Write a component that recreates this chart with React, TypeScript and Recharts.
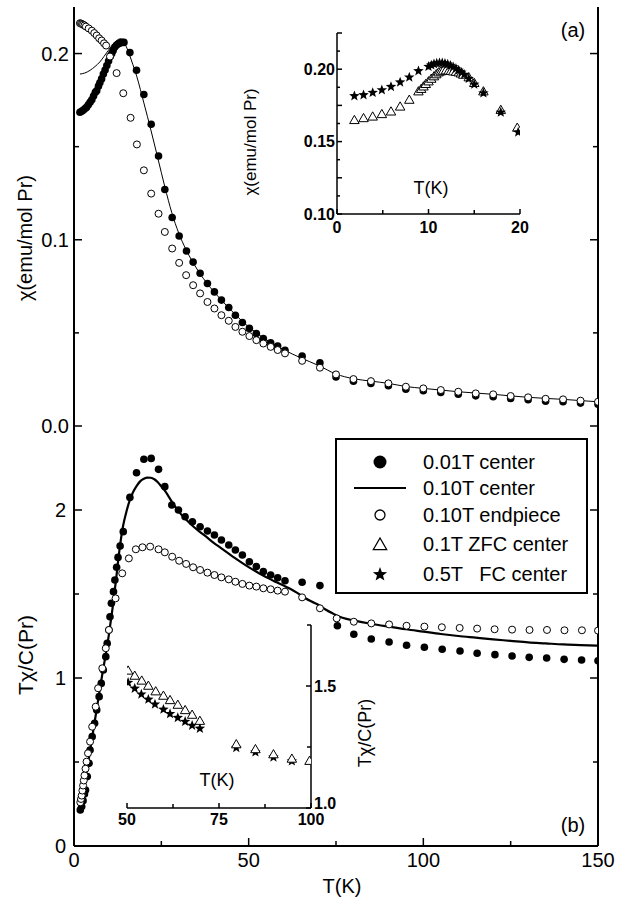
import React from 'react';
import { ComposedChart, Scatter, Line, XAxis, YAxis } from 'recharts';

const FONT = '"Liberation Sans", Arial, Helvetica, sans-serif';

// (a) chi(T), main panel
const chiFilled: [number, number][] = [
  [1.7, 0.1685], [2.2, 0.169], [2.7, 0.1697], [3.2, 0.1705], [3.6, 0.1712], [4.1, 0.1725], [4.6, 0.1738],
  [5.1, 0.1752], [5.6, 0.1772], [6.1, 0.1792], [6.5, 0.18], [7.0, 0.1825], [7.4, 0.1843], [7.9, 0.1864],
  [8.4, 0.189], [8.9, 0.1912], [9.4, 0.1936], [9.9, 0.196], [10.4, 0.1985], [10.8, 0.2], [11.2, 0.2016],
  [11.7, 0.2035], [12.2, 0.2046], [12.7, 0.2053], [13.2, 0.2057], [13.7, 0.206], [14.3, 0.206],
  [16.0, 0.2005], [17.9, 0.191], [20.0, 0.178], [22.1, 0.162], [24.2, 0.145], [26.0, 0.127], [28.1, 0.112],
  [30.1, 0.102], [32.2, 0.094], [34.1, 0.088], [36.1, 0.082], [38.2, 0.0765], [40.2, 0.072], [42.2, 0.0676],
  [44.3, 0.0636], [46.2, 0.0595], [48.2, 0.0556], [50.2, 0.0524], [52.2, 0.0497], [54.2, 0.047], [56.3, 0.0447],
  [58.3, 0.0429], [60.4, 0.0407], [65.3, 0.0375], [70.4, 0.0339], [75, 0.0263], [80, 0.024], [85, 0.0228],
  [90, 0.0216], [95, 0.0198], [100, 0.0189], [105, 0.018], [110, 0.0171], [115, 0.0162], [120, 0.0157],
  [125, 0.0148], [130, 0.0141], [135, 0.0133], [140, 0.013], [145, 0.0123], [150, 0.0117],
];

const chiOpen: [number, number][] = [
  [1.7, 0.2163], [2.0, 0.2161], [2.3, 0.2158], [2.6, 0.2155], [3.0, 0.2151], [3.4, 0.2145], [4.2, 0.2135],
  [5.1, 0.2123], [5.8, 0.211], [6.5, 0.2097], [7.2, 0.2082], [7.9, 0.207], [8.6, 0.2055], [9.2, 0.2043],
  [10.3, 0.1984], [12.2, 0.1895], [14.1, 0.1787], [16.2, 0.1655], [18.0, 0.1512], [20.0, 0.1373], [22.1, 0.1248],
  [24.2, 0.114], [26.0, 0.1042], [28.1, 0.0953], [30.1, 0.0876], [32.1, 0.081], [34.1, 0.0756], [36.1, 0.0712],
  [38.2, 0.0666], [40.2, 0.0631], [42.2, 0.0595], [44.3, 0.0565], [46.2, 0.0532], [48.2, 0.0506], [50.2, 0.0483],
  [52.2, 0.0461], [54.2, 0.0443], [56.3, 0.0425], [58.3, 0.0408], [60.4, 0.039], [65.3, 0.035], [70.4, 0.0313],
  [75, 0.0277], [80, 0.0252], [85, 0.0241], [90, 0.0229], [95, 0.0211], [100, 0.0202], [105, 0.0193],
  [110, 0.0184], [115, 0.0175], [120, 0.017], [125, 0.0161], [130, 0.0154], [135, 0.0146], [140, 0.0143],
  [145, 0.0136], [150, 0.013],
];

const chiLine: [number, number][] = [
  [1.7, 0.189], [3, 0.1895], [4.6, 0.191], [6, 0.193], [7.4, 0.1955], [8.6, 0.1985], [9.8, 0.2016], [10.8, 0.2042],
  [11.7, 0.2061], [12.5, 0.2074], [13.2, 0.2079], [13.8, 0.2075], [14.5, 0.2055], [15.5, 0.2013], [16.5, 0.196],
  [18, 0.1875], [20, 0.1735], [22, 0.159], [24, 0.1438], [26, 0.1285], [28, 0.1145], [30, 0.1035], [32, 0.095],
  [34, 0.088], [36, 0.082], [38, 0.0768], [40, 0.0722], [42, 0.068], [44, 0.064], [46, 0.0602], [48, 0.0565],
  [50, 0.0532], [52, 0.0503], [54, 0.0476], [56, 0.0452], [58, 0.043], [60, 0.041], [65, 0.0365], [70, 0.0325],
  [75, 0.0279], [80, 0.0254], [85, 0.0241], [90, 0.0229], [95, 0.0212], [100, 0.0202], [110, 0.0184],
  [120, 0.017], [130, 0.0154], [140, 0.0143], [150, 0.013],
];

// (a) inset, 0-20 K
const insetTri: [number, number][] = [
  [1.9, 0.1647], [2.9, 0.166], [3.9, 0.1671], [4.9, 0.1688], [5.9, 0.1706], [6.9, 0.174], [7.9, 0.1787],
  [8.9, 0.1845], [9.2, 0.1862], [9.45, 0.1879], [9.7, 0.1896], [10.0, 0.1914], [10.3, 0.1932], [10.6, 0.1949],
  [10.85, 0.1963], [11.1, 0.1976], [11.35, 0.1983], [11.6, 0.1988], [11.9, 0.199], [12.2, 0.1988], [12.45, 0.1986],
  [12.7, 0.1983], [13.0, 0.198], [13.3, 0.1976], [13.55, 0.1968], [13.8, 0.196], [14.4, 0.1942], [15.0, 0.1903],
  [16.0, 0.1845], [17.9, 0.1717], [19.7, 0.1594],
];

const insetStar: [number, number][] = [
  [1.9, 0.1815], [2.9, 0.1822], [3.9, 0.1838], [4.9, 0.1856], [5.9, 0.1879], [6.9, 0.191], [7.9, 0.1944],
  [8.9, 0.1988], [10.0, 0.2018], [10.3, 0.2028], [10.6, 0.2036], [10.9, 0.2041], [11.2, 0.2043], [11.5, 0.2043],
  [11.8, 0.204], [12.1, 0.2034], [12.4, 0.2025], [12.7, 0.2015], [13.0, 0.2004], [13.3, 0.1992], [13.6, 0.1978],
  [13.9, 0.1963], [14.4, 0.1935], [15.0, 0.1895], [16.0, 0.1835], [17.9, 0.1702], [19.8, 0.1565],
];

// (b) T*chi/C, main panel
const tcFilled: [number, number][] = [
  [1.8, 0.215], [2.2, 0.235], [2.6, 0.27], [3.0, 0.31], [3.3, 0.333], [3.8, 0.413], [4.3, 0.492], [4.6, 0.571],
  [5.2, 0.651], [5.9, 0.73], [6.5, 0.81], [7.2, 0.889], [7.8, 0.968], [8.4, 1.048], [9.1, 1.127], [9.5, 1.206],
  [10.0, 1.286], [10.3, 1.365], [10.7, 1.445], [11.3, 1.514], [11.7, 1.583], [12.2, 1.659], [12.6, 1.718],
  [13.2, 1.786], [14.1, 1.871], [16.0, 2.075], [17.9, 2.222], [20.0, 2.302], [22.1, 2.307], [24.2, 2.242],
  [26.0, 2.139], [28.0, 2.03], [29.9, 2.0], [31.8, 1.96], [33.9, 1.93], [36.1, 1.9], [38.2, 1.875], [40.2, 1.851],
  [42.2, 1.821], [44.3, 1.792], [46.2, 1.762], [48.2, 1.732], [50.2, 1.692], [52.2, 1.663], [54.2, 1.633],
  [56.3, 1.613], [58.3, 1.597], [60.4, 1.579], [65.3, 1.57], [70.4, 1.55], [75.4, 1.311], [80.1, 1.26],
  [85.1, 1.232], [90.2, 1.214], [95.2, 1.195], [100.3, 1.183], [105.4, 1.171], [110.5, 1.161], [115.4, 1.147],
  [120.5, 1.139], [125.4, 1.131], [130.3, 1.123], [135.3, 1.119], [140.3, 1.111], [145.3, 1.107], [150, 1.103],
];

const tcOpen: [number, number][] = [
  [1.8, 0.26], [2.0, 0.28], [2.2, 0.3], [2.4, 0.33], [2.6, 0.36], [2.8, 0.39], [3.0, 0.42], [3.3, 0.46],
  [3.6, 0.502], [4.0, 0.552], [4.6, 0.621], [5.2, 0.71], [6.2, 0.829], [6.9, 0.939], [8.1, 1.058], [9.1, 1.177],
  [10.0, 1.286], [11.9, 1.474], [13.8, 1.623], [15.7, 1.712], [17.7, 1.766], [19.6, 1.778], [21.8, 1.782],
  [24.2, 1.766], [26.0, 1.748], [28.1, 1.722], [30.1, 1.698], [32.1, 1.679], [34.1, 1.659], [36.1, 1.643],
  [38.2, 1.627], [40.2, 1.613], [42.2, 1.599], [44.3, 1.587], [46.2, 1.573], [48.2, 1.56], [50.2, 1.55],
  [52.2, 1.544], [54.2, 1.534], [56.3, 1.528], [58.3, 1.52], [60.4, 1.514], [65.3, 1.48], [70.4, 1.415],
  [75.2, 1.355], [80.1, 1.335], [85.1, 1.325], [90.2, 1.319], [95.2, 1.311], [100.3, 1.306], [105.3, 1.302],
  [110.4, 1.298], [115.4, 1.294], [120.4, 1.29], [125.4, 1.288], [130.4, 1.286], [135.4, 1.286], [140.4, 1.284],
  [145.4, 1.284], [150, 1.282],
];

const tcLine: [number, number][] = [
  [2, 0.25], [3, 0.37], [4, 0.49], [5, 0.62], [6, 0.75], [7, 0.88], [8, 1.01], [9, 1.13], [10, 1.26], [11, 1.41],
  [12, 1.58], [13, 1.76], [14, 1.9], [15, 1.99], [16, 2.06], [17, 2.11], [18, 2.145], [19, 2.172], [20, 2.186],
  [21, 2.193], [22, 2.192], [23, 2.183], [24, 2.165], [25, 2.14], [26, 2.115], [28, 2.05], [30, 1.99], [32, 1.945],
  [34, 1.905], [36, 1.87], [38, 1.838], [40, 1.805], [42, 1.775], [44, 1.745], [46, 1.715], [48, 1.687], [50, 1.66],
  [52, 1.635], [54, 1.612], [56, 1.59], [58, 1.57], [60, 1.55], [62, 1.53], [64, 1.505], [66, 1.478], [68, 1.455],
  [70, 1.435], [72, 1.408], [74, 1.385], [76, 1.365], [78, 1.352], [80, 1.343], [85, 1.323], [90, 1.306],
  [95, 1.29], [100, 1.276], [105, 1.262], [110, 1.25], [115, 1.24], [120, 1.23], [125, 1.221], [130, 1.212],
  [135, 1.206], [140, 1.2], [145, 1.196], [150, 1.192],
];

// (b) inset, 50-100 K
const inset2Tri: [number, number][] = [
  [50.3, 1.562], [52.1, 1.541], [54.0, 1.521], [55.8, 1.5], [57.8, 1.477], [59.9, 1.459], [61.7, 1.441],
  [63.8, 1.422], [65.8, 1.4], [67.7, 1.381], [69.8, 1.356], [79.7, 1.26], [84.9, 1.24], [89.8, 1.219],
  [94.8, 1.201], [99.6, 1.192],
];

const inset2Star: [number, number][] = [
  [50.3, 1.514], [52.1, 1.49], [53.9, 1.466], [55.8, 1.445], [57.6, 1.425], [59.9, 1.404], [61.7, 1.386],
  [63.8, 1.37], [65.8, 1.354], [67.7, 1.338], [69.8, 1.326], [79.7, 1.247], [84.9, 1.229], [89.8, 1.208],
  [94.8, 1.192],
];

const X_MAIN = [0, 25, 50, 75, 100, 125, 150];
const Y_A = [0, 0.05, 0.1, 0.15, 0.2];
const Y_B = [0, 0.5, 1, 1.5, 2];
const X_IN1 = [0, 5, 10, 15, 20];
const Y_IN1 = [0.1, 0.1125, 0.125, 0.1375, 0.15, 0.1625, 0.175, 0.1875, 0.2, 0.2125, 0.225];
const X_IN2 = [50, 62.5, 75, 87.5, 100];
const Y_IN2 = [1, 1.25, 1.5, 1.75];

const pts = (a: [number, number][]) => a.map(([T, v]) => ({ T, v }));
const isMult = (v: number, s: number) => Math.abs(v / s - Math.round(v / s)) < 1e-6;

function AxisTick(p: any) {
  const { x, y, payload, side, major, label, len = 8, minor = 5, fs = 20, weight = 'normal', gap = 6, shift } = p;
  const v = payload.value;
  const L = major(v) ? len : minor;
  const t = label ? label(v) : null;
  const dy = shift ? shift(v) : 0;
  const ts = { fontFamily: FONT, fontSize: fs, fontWeight: weight, fill: '#000' };
  let ln: React.ReactNode = null;
  let tx: React.ReactNode = null;
  if (side === 'bottom') {
    const ay = y - gap;
    ln = <line x1={x} x2={x} y1={ay} y2={ay - L} />;
    if (t) tx = <text x={x} y={ay + gap + fs * 0.72 + dy} textAnchor="middle" style={ts}>{t}</text>;
  } else if (side === 'top') {
    const ay = y + gap;
    ln = <line x1={x} x2={x} y1={ay} y2={ay + L} />;
  } else if (side === 'left') {
    const ax = x + gap;
    ln = <line x1={ax} x2={ax + L} y1={y} y2={y} />;
    if (t) tx = <text x={ax - gap} y={y + fs * 0.36 + dy} textAnchor="end" style={ts}>{t}</text>;
  } else {
    const ax = x - gap;
    ln = <line x1={ax} x2={ax - L} y1={y} y2={y} />;
    if (t) tx = <text x={ax + gap} y={y + fs * 0.36 + dy} textAnchor="start" style={ts}>{t}</text>;
  }
  return (
    <g>
      <g stroke="#000" strokeWidth={1.5}>{ln}</g>
      {tx}
    </g>
  );
}

const mkTick = (side: string, opts: any) => (p: any) => <AxisTick {...p} side={side} {...opts} />;

const starPath = (cx: number, cy: number, R: number) => {
  const r = R * 0.42;
  let d = '';
  for (let i = 0; i < 10; i++) {
    const a = -Math.PI / 2 + (i * Math.PI) / 5;
    const rr = i % 2 === 0 ? R : r;
    d += (i === 0 ? 'M' : 'L') + (cx + rr * Math.cos(a)).toFixed(2) + ',' + (cy + rr * Math.sin(a)).toFixed(2);
  }
  return d + 'Z';
};
const triPoints = (cx: number, cy: number, s: number) =>
  `${cx},${cy - s} ${cx - s * 0.95},${cy + s * 0.65} ${cx + s * 0.95},${cy + s * 0.65}`;

const Dot = (r: number) => (p: any) => <circle cx={p.cx} cy={p.cy} r={r} fill="#000" />;
const Ring = (r: number) => (p: any) => <circle cx={p.cx} cy={p.cy} r={r} fill="#fff" stroke="#000" strokeWidth={1} />;
const Tri = (s: number) => (p: any) => <polygon points={triPoints(p.cx, p.cy, s)} fill="#fff" stroke="#000" strokeWidth={1} />;
const Star = (R: number) => (p: any) => <path d={starPath(p.cx, p.cy, R)} fill="#000" />;

const AX = { stroke: '#000', strokeWidth: 2 };
const AXI = { stroke: '#000', strokeWidth: 1.5 };
const m50 = (v: number) => isMult(v, 50);
const m25 = (v: number) => isMult(v, 25);
const none = () => null;

const txt = (left: number, top: number, s: string, fs: number, rot = false, weight = 'normal') => (
  <div
    style={{
      position: 'absolute', left, top, fontSize: fs, fontWeight: weight, lineHeight: 1, whiteSpace: 'pre',
      transform: `translate(-50%, -50%)${rot ? ' rotate(-90deg)' : ''}`,
    }}
  >
    {s}
  </div>
);

const legendRows: { label: string; kind: string }[] = [
  { label: '0.01T center', kind: 'dot' },
  { label: '0.10T center', kind: 'line' },
  { label: '0.10T endpiece', kind: 'ring' },
  { label: '0.1T ZFC center', kind: 'tri' },
  { label: '0.5T   FC center', kind: 'star' },
];
const legendY = [24, 50, 77, 106, 136];

function Symbol({ kind }: { kind: string }) {
  return (
    <svg width={60} height={20} style={{ display: 'block' }}>
      {kind === 'dot' && <circle cx={30} cy={10} r={6.5} fill="#000" />}
      {kind === 'line' && <line x1={4} x2={56} y1={10} y2={10} stroke="#000" strokeWidth={2} />}
      {kind === 'ring' && <circle cx={30} cy={10} r={5} fill="#fff" stroke="#000" strokeWidth={1.3} />}
      {kind === 'tri' && <polygon points={triPoints(30, 11, 7)} fill="#fff" stroke="#000" strokeWidth={1.3} />}
      {kind === 'star' && <path d={starPath(30, 10.5, 7.5)} fill="#000" />}
    </svg>
  );
}

export default function App() {
  return (
    <div style={{ position: 'absolute', left: 0, top: 0, width: 617, height: 900, background: '#fff', fontFamily: FONT, overflow: 'hidden', color: '#000' }}>
      {/* panel (a) */}
      <div style={{ position: 'absolute', left: 0, top: 0 }}>
        <ComposedChart width={617} height={440} margin={{ top: 7, right: 0, bottom: 14, left: 0 }}>
          <XAxis dataKey="T" type="number" domain={[0, 150]} ticks={X_MAIN} interval={0} height={0} tickSize={0} tickMargin={6}
            axisLine={AX} tickLine={false} allowDataOverflow tick={mkTick('bottom', { major: m50, label: none, gap: 6 })} />
          <XAxis xAxisId="t" orientation="top" type="number" domain={[0, 150]} ticks={X_MAIN} interval={0} height={0} tickSize={0} tickMargin={6}
            axisLine={AX} tickLine={false} allowDataOverflow tick={mkTick('top', { major: m50, label: none, gap: 6 })} />
          <YAxis dataKey="v" type="number" domain={[0, 0.225]} ticks={Y_A} interval={0} width={74} tickSize={0} tickMargin={5}
            axisLine={AX} tickLine={false} allowDataOverflow
            tick={mkTick('left', { major: (v: number) => isMult(v, 0.1), label: (v: number) => (isMult(v, 0.1) ? v.toFixed(1) : null), gap: 5 })} />
          <YAxis yAxisId="r" orientation="right" type="number" domain={[0, 0.225]} ticks={Y_A} interval={0} width={19} tickSize={0} tickMargin={6}
            axisLine={AX} tickLine={false} allowDataOverflow tick={mkTick('right', { major: (v: number) => isMult(v, 0.1), label: none, gap: 6 })} />
          <Scatter data={pts(chiFilled)} dataKey="v" shape={Dot(3.8)} isAnimationActive={false} />
          <Line data={pts(chiLine)} dataKey="v" type="monotone" stroke="#000" strokeWidth={1} dot={false} isAnimationActive={false} />
          <Scatter data={pts(chiOpen)} dataKey="v" shape={Ring(3.5)} isAnimationActive={false} />
        </ComposedChart>
      </div>

      {/* panel (b) */}
      <div style={{ position: 'absolute', left: 0, top: 406 }}>
        <ComposedChart width={617} height={494} margin={{ top: 20, right: 0, bottom: 0, left: 0 }}>
          <XAxis dataKey="T" type="number" domain={[0, 150]} ticks={X_MAIN} interval={0} height={54} tickSize={0} tickMargin={7}
            axisLine={AX} tickLine={false} allowDataOverflow
            tick={mkTick('bottom', { major: m50, label: (v: number) => (isMult(v, 50) ? String(v) : null), gap: 7 })} />
          <XAxis xAxisId="t" orientation="top" type="number" domain={[0, 150]} ticks={X_MAIN} interval={0} height={0} tickSize={0} tickMargin={6}
            axisLine={AX} tickLine={false} allowDataOverflow tick={mkTick('top', { major: m50, label: none, gap: 6 })} />
          <YAxis dataKey="v" type="number" domain={[0, 2.5]} ticks={Y_B} interval={0} width={74} tickSize={0} tickMargin={8}
            axisLine={AX} tickLine={false} allowDataOverflow
            tick={mkTick('left', { major: (v: number) => isMult(v, 1), label: (v: number) => (isMult(v, 1) ? String(v) : null), gap: 8 })} />
          <YAxis yAxisId="r" orientation="right" type="number" domain={[0, 2.5]} ticks={Y_B} interval={0} width={19} tickSize={0} tickMargin={6}
            axisLine={AX} tickLine={false} allowDataOverflow tick={mkTick('right', { major: (v: number) => isMult(v, 1), label: none, gap: 6 })} />
          <Scatter data={pts(tcFilled)} dataKey="v" shape={Dot(3.8)} isAnimationActive={false} />
          <Scatter data={pts(tcOpen)} dataKey="v" shape={Ring(3.5)} isAnimationActive={false} />
          <Line data={pts(tcLine)} dataKey="v" type="monotone" stroke="#000" strokeWidth={2.2} dot={false} isAnimationActive={false} />
        </ComposedChart>
      </div>

      {/* inset (a) */}
      <div style={{ position: 'absolute', left: 280, top: 28 }}>
        <ComposedChart width={260} height={210} margin={{ top: 5, right: 20, bottom: 0, left: 0 }}>
          <XAxis dataKey="T" type="number" domain={[0, 20]} ticks={X_IN1} interval={0} height={24} tickSize={0} tickMargin={7}
            axisLine={AXI} tickLine={false} allowDataOverflow
            tick={mkTick('bottom', { major: (v: number) => isMult(v, 10), label: (v: number) => (isMult(v, 10) ? String(v) : null), gap: 7, fs: 16, weight: 'bold', len: 5, minor: 4 })} />
          <XAxis xAxisId="t" orientation="top" type="number" domain={[0, 20]} ticks={X_IN1} interval={0} height={0} tickSize={0} tickMargin={6}
            axisLine={AXI} tickLine={false} allowDataOverflow tick={mkTick('top', { major: (v: number) => isMult(v, 10), label: none, gap: 6, len: 5, minor: 4 })} />
          <YAxis dataKey="v" type="number" domain={[0.1, 0.225]} ticks={Y_IN1} interval={0} width={57} tickSize={0} tickMargin={2}
            axisLine={AXI} tickLine={false} allowDataOverflow
            tick={mkTick('left', { major: (v: number) => isMult(v, 0.025), label: (v: number) => (isMult(v, 0.05) ? v.toFixed(2) : null), gap: 2, fs: 16, weight: 'bold', len: 5, minor: 3 })} />
          <YAxis yAxisId="r" orientation="right" type="number" domain={[0.1, 0.225]} ticks={Y_IN1} interval={0} width={0} tickSize={0} tickMargin={6}
            axisLine={AXI} tickLine={false} allowDataOverflow tick={mkTick('right', { major: (v: number) => isMult(v, 0.025), label: none, gap: 6, len: 5, minor: 3 })} />
          <Scatter data={pts(insetTri)} dataKey="v" shape={Tri(5)} isAnimationActive={false} />
          <Scatter data={pts(insetStar)} dataKey="v" shape={Star(5.5)} isAnimationActive={false} />
        </ComposedChart>
      </div>

      {/* inset (b) */}
      <div style={{ position: 'absolute', left: 100, top: 620 }}>
        <ComposedChart width={250} height={215} margin={{ top: 5, right: 4, bottom: 0, left: 27 }}>
          <XAxis dataKey="T" type="number" domain={[50, 100]} ticks={X_IN2} interval={0} height={27} tickSize={0} tickMargin={5}
            axisLine={AXI} tickLine={false} allowDataOverflow
            tick={mkTick('bottom', { major: m25, label: (v: number) => (isMult(v, 25) ? String(v) : null), gap: 5, fs: 16, weight: 'bold', len: 5, minor: 4 })} />
          <XAxis xAxisId="t" orientation="top" type="number" domain={[50, 100]} ticks={X_IN2} interval={0} height={0} tickSize={0} tickMargin={6}
            axisLine={AXI} tickLine={false} allowDataOverflow tick={mkTick('top', { major: m25, label: none, gap: 6, len: 5, minor: 4 })} />
          <YAxis dataKey="v" type="number" domain={[1, 1.75]} ticks={Y_IN2} interval={0} width={0} tickSize={0} tickMargin={6}
            axisLine={AXI} tickLine={false} allowDataOverflow tick={false} />
          <YAxis yAxisId="r" orientation="right" type="number" domain={[1, 1.75]} ticks={Y_IN2} interval={0} width={35} tickSize={0} tickMargin={3}
            axisLine={AXI} tickLine={false} allowDataOverflow
            tick={mkTick('right', { major: (v: number) => isMult(v, 0.5), label: (v: number) => (isMult(v, 0.5) ? v.toFixed(1) : null), shift: (v: number) => (v === 1 ? -5 : 0), gap: 3, fs: 16, weight: 'bold', len: 5, minor: 4 })} />
          <Scatter data={pts(inset2Star)} dataKey="v" shape={Star(5.5)} isAnimationActive={false} />
          <Scatter data={pts(inset2Tri)} dataKey="v" shape={Tri(5)} isAnimationActive={false} />
        </ComposedChart>
      </div>

      {/* legend */}
      <div style={{ position: 'absolute', left: 335, top: 438, width: 253, height: 156, boxSizing: 'border-box', border: '2px solid #000', background: '#fff' }}>
        {legendRows.map((r, i) => (
          <div key={r.label} style={{ position: 'absolute', left: 13, top: legendY[i] - 2 - 10, height: 20, display: 'flex', alignItems: 'center' }}>
            <Symbol kind={r.kind} />
            <span style={{ marginLeft: 13, fontSize: 20, lineHeight: '20px', whiteSpace: 'pre' }}>{r.label}</span>
          </div>
        ))}
      </div>

      {/* titles and labels */}
      {txt(25, 238, 'χ(emu/mol Pr)', 20, true)}
      {txt(25, 655, 'Tχ/C(Pr)', 21, true)}
      {txt(342, 886, 'T(K)', 20)}
      {txt(573, 30, '(a)', 20)}
      {txt(573, 825, '(b)', 20)}
      {txt(250, 142, 'χ(emu/mol Pr)', 17, true)}
      {txt(431, 188, 'T(K)', 18)}
      {txt(365, 733, 'Tχ/C(Pr)', 18, true)}
      {txt(217, 780, 'T(K)', 18)}
    </div>
  );
}
